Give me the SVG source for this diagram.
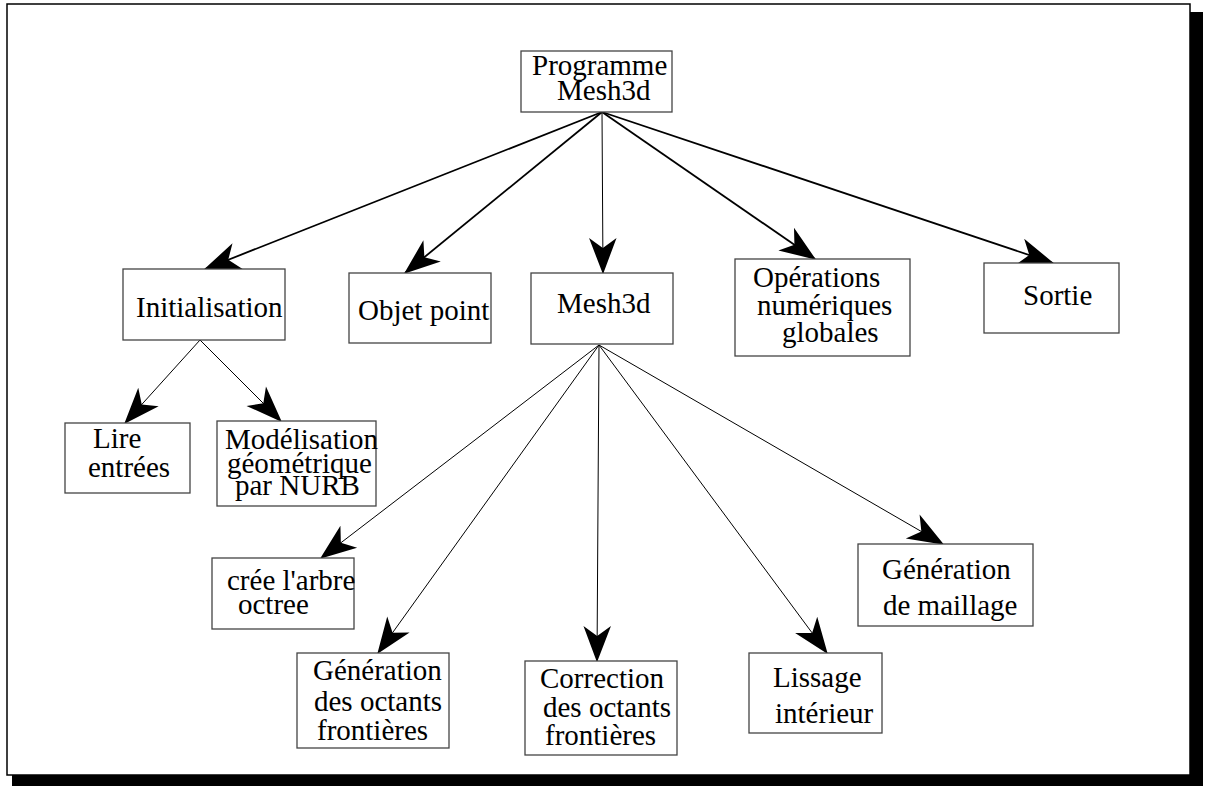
<svg xmlns="http://www.w3.org/2000/svg" width="1209" height="788" viewBox="0 0 1209 788">
<style>
.box{fill:#fff;stroke:#444;stroke-width:1.3}
.t{font-family:"Liberation Serif","Times New Roman",serif;font-size:29px;fill:#000}
.c{stroke:#000;fill:none}
.thick{stroke-width:1.8}
.thin{stroke-width:1}
</style>
<defs>
<marker id="ah" markerUnits="userSpaceOnUse" markerWidth="40" markerHeight="40" refX="0" refY="0" viewBox="-30 -15 32 30" orient="auto" overflow="visible">
<path d="M1,0 L-28,-11 L-20,0 L-28,11 Z" fill="#000"/>
</marker>
</defs>
<rect x="0" y="0" width="1209" height="788" fill="#fff"/>
<g id="frame">
<rect x="1190" y="12" width="13" height="774" fill="#000"/>
<rect x="12" y="775" width="1191" height="11" fill="#000"/>
<rect x="7" y="4" width="1183" height="771" fill="#fff" stroke="#000" stroke-width="1.5"/>
</g>
<g id="connectors">
<line class="c thick" x1="602" y1="112" x2="205" y2="269" marker-end="url(#ah)"/>
<line class="c thick" x1="602" y1="112" x2="405" y2="273" marker-end="url(#ah)"/>
<line class="c thin" stroke="#555" x1="602" y1="112" x2="603" y2="273" marker-end="url(#ah)"/>
<line class="c thick" x1="602" y1="112" x2="815" y2="259" marker-end="url(#ah)"/>
<line class="c thick" x1="602" y1="112" x2="1053" y2="263" marker-end="url(#ah)"/>
<line class="c thin" x1="200" y1="340" x2="125" y2="423" marker-end="url(#ah)"/>
<line class="c thin" x1="200" y1="340" x2="281" y2="421" marker-end="url(#ah)"/>
<line class="c thin" x1="599" y1="345" x2="321" y2="558" marker-end="url(#ah)"/>
<line class="c thin" x1="599" y1="345" x2="378" y2="653" marker-end="url(#ah)"/>
<line class="c thin" stroke="#555" x1="599" y1="345" x2="597" y2="661" marker-end="url(#ah)"/>
<line class="c thin" x1="599" y1="345" x2="827" y2="653" marker-end="url(#ah)"/>
<line class="c thin" x1="599" y1="345" x2="943" y2="544" marker-end="url(#ah)"/>
</g>
<g id="programme">
<rect class="box" x="521" y="51" width="151" height="61"/>
<text class="t" x="532" y="75">Programme</text>
<text class="t" x="557" y="100">Mesh3d</text>
</g>
<g id="initialisation">
<rect class="box" x="123" y="269" width="162" height="71"/>
<text class="t" x="136" y="317">Initialisation</text>
</g>
<g id="objet-point">
<rect class="box" x="349" y="273" width="142" height="70"/>
<text class="t" x="358" y="320">Objet point</text>
</g>
<g id="mesh3d">
<rect class="box" x="531" y="273" width="142" height="71"/>
<text class="t" x="557" y="313">Mesh3d</text>
</g>
<g id="operations">
<rect class="box" x="735" y="259" width="175" height="97"/>
<text class="t" x="753" y="287">Opérations</text>
<text class="t" x="757" y="315">numériques</text>
<text class="t" x="782" y="342">globales</text>
</g>
<g id="sortie">
<rect class="box" x="984" y="263" width="135" height="70"/>
<text class="t" x="1023" y="305">Sortie</text>
</g>
<g id="lire-entrees">
<rect class="box" x="65" y="423" width="125" height="70"/>
<text class="t" x="93" y="448">Lire</text>
<text class="t" x="88" y="477">entrées</text>
</g>
<g id="modelisation">
<rect class="box" x="217" y="421" width="159" height="85"/>
<text class="t" x="225" y="449">Modélisation</text>
<text class="t" x="227" y="473">géométrique</text>
<text class="t" x="235" y="495">par NURB</text>
</g>
<g id="cree-arbre">
<rect class="box" x="212" y="558" width="142" height="71"/>
<text class="t" x="227" y="590">crée l'arbre</text>
<text class="t" x="238" y="614">octree</text>
</g>
<g id="generation-octants">
<rect class="box" x="297" y="653" width="152" height="95"/>
<text class="t" x="313" y="680">Génération</text>
<text class="t" x="314" y="711">des octants</text>
<text class="t" x="317" y="740">frontières</text>
</g>
<g id="correction">
<rect class="box" x="525" y="661" width="152" height="94"/>
<text class="t" x="540" y="688">Correction</text>
<text class="t" x="543" y="717">des octants</text>
<text class="t" x="545" y="745">frontières</text>
</g>
<g id="lissage">
<rect class="box" x="749" y="653" width="133" height="80"/>
<text class="t" x="773" y="687">Lissage</text>
<text class="t" x="775" y="723">intérieur</text>
</g>
<g id="generation-maillage">
<rect class="box" x="858" y="544" width="175" height="82"/>
<text class="t" x="882" y="579">Génération</text>
<text class="t" x="883" y="615">de maillage</text>
</g>
</svg>
